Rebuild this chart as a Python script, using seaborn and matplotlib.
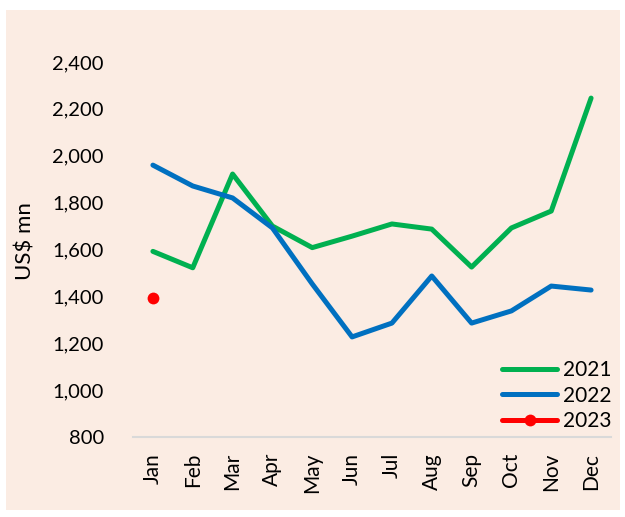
import numpy as np
import pandas as pd
import seaborn as sns
import matplotlib.pyplot as plt
from matplotlib.patches import Rectangle

months = ['Jan', 'Feb', 'Mar', 'Apr', 'May', 'Jun', 'Jul', 'Aug', 'Sep', 'Oct', 'Nov', 'Dec']
vals_2021 = [1592, 1522, 1922, 1700, 1608, 1657, 1709, 1687, 1525, 1692, 1764, 2246]
vals_2022 = [1960, 1871, 1820, 1692, 1453, 1227, 1286, 1487, 1286, 1338, 1444, 1427]
vals_2023 = [1393]

sns.set_theme(style='white')
plt.rcParams['font.family'] = ['Lato', 'DejaVu Sans']
plt.rcParams['text.color'] = 'black'
plt.rcParams['xtick.color'] = 'black'
plt.rcParams['ytick.color'] = 'black'
plt.rcParams['axes.labelcolor'] = 'black'

bg = '#FBECE3'
fig = plt.figure(figsize=(6.25, 5.17), dpi=100)
fig.patch.set_facecolor('white')
fig.patches.append(Rectangle((6 / 625, 1 - 510 / 517), 614 / 625, 500 / 517,
                             transform=fig.transFigure, facecolor=bg, edgecolor='none', zorder=-10))

ax = fig.add_axes([133 / 625, 1 - 437 / 517, 478 / 625, 375 / 517])
ax.set_facecolor('none')

pos = np.arange(len(months))
df21 = pd.DataFrame({'m': pos, 'v': vals_2021})
df22 = pd.DataFrame({'m': pos, 'v': vals_2022})
df23 = pd.DataFrame({'m': pos[:len(vals_2023)], 'v': vals_2023})

sns.lineplot(data=df21, x='m', y='v', color='#00B050', lw=3.6, label='2021', ax=ax)
sns.lineplot(data=df22, x='m', y='v', color='#0070C0', lw=3.6, label='2022', ax=ax)
sns.lineplot(data=df23, x='m', y='v', color='#FF0000', lw=3.6, marker='o', markersize=8.5,
             markeredgewidth=0, label='2023', ax=ax)

ax.set_xlim(-0.5, 11.5)
ax.set_ylim(800, 2400)
ax.set_yticks(range(800, 2401, 200))
ax.set_yticklabels([f'{v:,}' for v in range(800, 2401, 200)], fontsize=14.5)
ax.set_xticks(pos)
ax.set_xticklabels(months, rotation=90, fontsize=15)
ax.tick_params(axis='x', length=0, pad=11.5)
ax.tick_params(axis='y', length=0, pad=21)
ax.set_xlabel('')
ax.set_ylabel('US$ mn', fontsize=16)
ax.yaxis.set_label_coords(-0.205, 0.523)

for s in ['top', 'right', 'left']:
    ax.spines[s].set_visible(False)
ax.spines['bottom'].set_color('#D9D9D9')
ax.spines['bottom'].set_linewidth(1.5)

ax.legend(loc='lower right', frameon=False, fontsize=15, handlelength=2.64,
          handletextpad=0.25, labelspacing=0.27, borderpad=0, borderaxespad=0.0,
          bbox_to_anchor=(1.0, 0.015))

fig.savefig('out.png', dpi=100, facecolor=fig.get_facecolor())
